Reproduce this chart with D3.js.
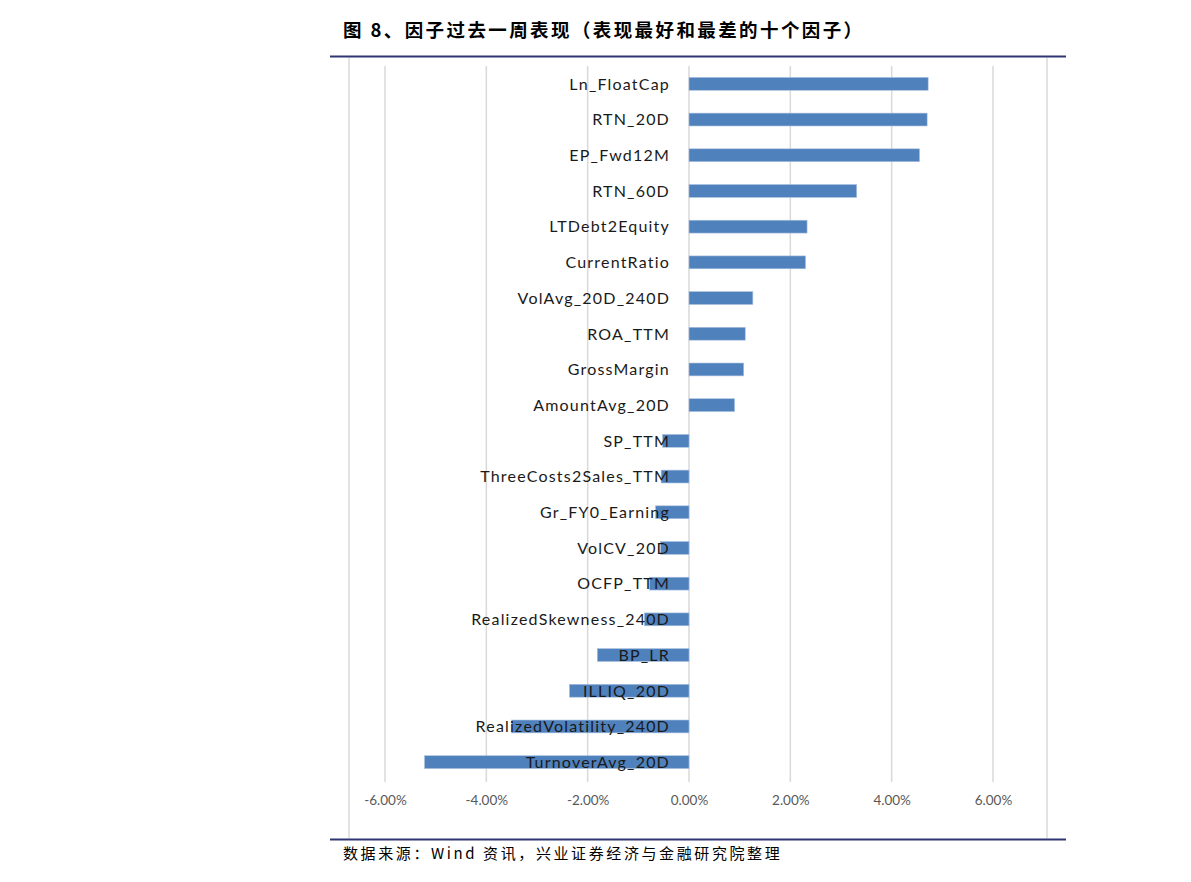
<!DOCTYPE html>
<html><head><meta charset="utf-8">
<script src="https://cdn.jsdelivr.net/npm/d3@7"></script>
<style>body{margin:0;background:#fff;}svg{display:block;}</style>
</head><body>
<svg id="c" width="1191" height="882"></svg>
<script>
const titleText = "图 8、因子过去一周表现（表现最好和最差的十个因子）";
const sourceText = "数据来源：Wind 资讯，兴业证券经济与金融研究院整理";
const categories = ["Ln_FloatCap","RTN_20D","EP_Fwd12M","RTN_60D","LTDebt2Equity","CurrentRatio","VolAvg_20D_240D","ROA_TTM","GrossMargin","AmountAvg_20D","SP_TTM","ThreeCosts2Sales_TTM","Gr_FY0_Earning","VolCV_20D","OCFP_TTM","RealizedSkewness_240D","BP_LR","ILLIQ_20D","RealizedVolatility_240D","TurnoverAvg_20D"];
const values = [0.0472,0.0470,0.0455,0.0331,0.0233,0.0230,0.0126,0.0111,0.0108,0.0090,-0.0052,-0.0055,-0.0066,-0.0056,-0.0078,-0.0088,-0.0181,-0.0236,-0.0350,-0.0522];
const tickValues = [-0.06,-0.04,-0.02,0,0.02,0.04,0.06];

const svg = d3.select("#c");
const x = d3.scaleLinear().domain([-0.06,0.06]).range([385,993]);
const y = d3.scaleBand().domain(categories).range([66,780]).paddingInner(0.64).paddingOuter(0.32);

// title
svg.append("text").attr("x",343).attr("y",37).attr("font-family","Noto Sans CJK SC").attr("font-weight","bold")
  .attr("font-size",18.5).attr("letter-spacing",2.4).attr("fill","#000").text(titleText);
// navy rules
svg.append("line").attr("x1",330).attr("x2",1066).attr("y1",56.5).attr("y2",56.5).attr("stroke","#2F3573").attr("stroke-width",2);
svg.append("line").attr("x1",330).attr("x2",1066).attr("y1",839.5).attr("y2",839.5).attr("stroke","#2F3573").attr("stroke-width",2);
// chart frame sides
svg.append("line").attr("x1",349).attr("x2",349).attr("y1",58).attr("y2",838).attr("stroke","#D9D9D9").attr("stroke-width",1.5);
svg.append("line").attr("x1",1047).attr("x2",1047).attr("y1",58).attr("y2",838).attr("stroke","#D9D9D9").attr("stroke-width",1.5);

// gridlines
svg.append("g").selectAll("line").data(tickValues).join("line")
  .attr("x1",d=>x(d)).attr("x2",d=>x(d)).attr("y1",66).attr("y2",782)
  .attr("stroke","#D9D9D9").attr("stroke-width",1.5);

// bars
svg.append("g").selectAll("rect").data(values).join("rect")
  .attr("x",(d)=>x(Math.min(0,d))).attr("width",d=>Math.abs(x(d)-x(0)))
  .attr("y",(d,i)=>y(categories[i])).attr("height",y.bandwidth())
  .attr("fill","#4F81BD").attr("stroke","#A9C0DE").attr("stroke-width",0.6);

// category labels
svg.append("g").selectAll("text").data(categories).join("text")
  .attr("x",670).attr("y",d=>y(d)+y.bandwidth()/2).attr("dy","0.36em")
  .attr("text-anchor","end").attr("font-family","Lato, 'Open Sans', sans-serif").attr("font-size",16)
  .attr("letter-spacing",1.2).attr("fill","#1a1a1a").text(d=>d);

// x axis labels
const fmt = d3.format(".2%");
const axis = d3.axisBottom(x).tickValues(tickValues).tickFormat(d=>fmt(d).replace("−","-")).tickSize(0).tickPadding(0);
const ax = svg.append("g").attr("transform","translate(0,795)").call(axis);
ax.select(".domain").remove();
ax.selectAll("text").attr("font-family","Lato, 'Open Sans', sans-serif").attr("font-size",13.5).attr("fill","#595959");

// source
svg.append("text").attr("x",343).attr("y",859).attr("font-family","Noto Sans CJK SC")
  .attr("font-size",15).attr("letter-spacing",2.6).attr("fill","#000").text(sourceText);
</script>
</body></html>
